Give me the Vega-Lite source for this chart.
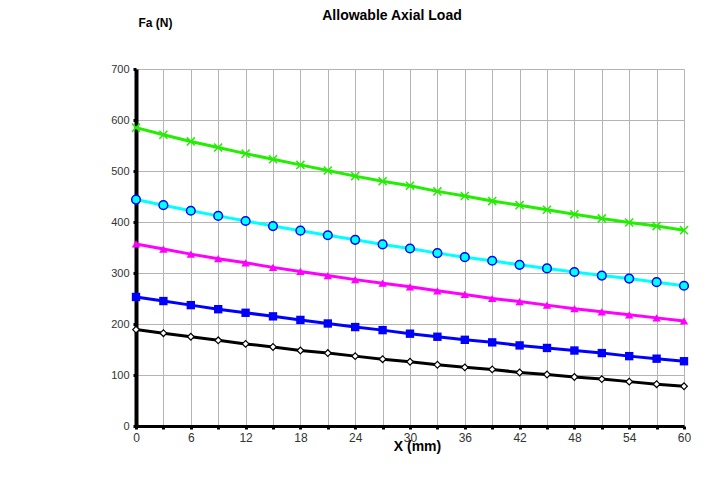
{
  "$schema": "https://vega.github.io/schema/vega-lite/v6.json",
  "autosize": {"type": "none"},
  "width": 548,
  "height": 357,
  "padding": {"left": 136, "top": 69, "right": 21, "bottom": 51},
  "background": "white",
  "title": {"text": "Allowable Axial Load", "fontSize": 14, "fontWeight": "bold", "font": "Liberation Sans", "color": "#000", "offset": -7, "dx": -18, "anchor": "middle"},
  "config": {"view": {"stroke": null}},
  "datasets": {
    "d": [
      {"x":0,"s":"A","v":585},{"x":3,"s":"A","v":571},{"x":6,"s":"A","v":558},{"x":9,"s":"A","v":546},{"x":12,"s":"A","v":534},{"x":15,"s":"A","v":523},{"x":18,"s":"A","v":512},{"x":21,"s":"A","v":501},{"x":24,"s":"A","v":490},{"x":27,"s":"A","v":480},{"x":30,"s":"A","v":471},{"x":33,"s":"A","v":460},{"x":36,"s":"A","v":451},{"x":39,"s":"A","v":441},{"x":42,"s":"A","v":433},{"x":45,"s":"A","v":424},{"x":48,"s":"A","v":415},{"x":51,"s":"A","v":407},{"x":54,"s":"A","v":399},{"x":57,"s":"A","v":392},{"x":60,"s":"A","v":384},
      {"x":0,"s":"B","v":444},{"x":3,"s":"B","v":433},{"x":6,"s":"B","v":422},{"x":9,"s":"B","v":412},{"x":12,"s":"B","v":402},{"x":15,"s":"B","v":392},{"x":18,"s":"B","v":383},{"x":21,"s":"B","v":374},{"x":24,"s":"B","v":365},{"x":27,"s":"B","v":356},{"x":30,"s":"B","v":348},{"x":33,"s":"B","v":339},{"x":36,"s":"B","v":331},{"x":39,"s":"B","v":324},{"x":42,"s":"B","v":316},{"x":45,"s":"B","v":309},{"x":48,"s":"B","v":302},{"x":51,"s":"B","v":295},{"x":54,"s":"B","v":289},{"x":57,"s":"B","v":282},{"x":60,"s":"B","v":275},
      {"x":0,"s":"C","v":357},{"x":3,"s":"C","v":347},{"x":6,"s":"C","v":337},{"x":9,"s":"C","v":328},{"x":12,"s":"C","v":320},{"x":15,"s":"C","v":311},{"x":18,"s":"C","v":303},{"x":21,"s":"C","v":295},{"x":24,"s":"C","v":287},{"x":27,"s":"C","v":280},{"x":30,"s":"C","v":273},{"x":33,"s":"C","v":265},{"x":36,"s":"C","v":258},{"x":39,"s":"C","v":250},{"x":42,"s":"C","v":244},{"x":45,"s":"C","v":237},{"x":48,"s":"C","v":230},{"x":51,"s":"C","v":224},{"x":54,"s":"C","v":218},{"x":57,"s":"C","v":212},{"x":60,"s":"C","v":206},
      {"x":0,"s":"D","v":253},{"x":3,"s":"D","v":245},{"x":6,"s":"D","v":237},{"x":9,"s":"D","v":229},{"x":12,"s":"D","v":222},{"x":15,"s":"D","v":215},{"x":18,"s":"D","v":208},{"x":21,"s":"D","v":201},{"x":24,"s":"D","v":194},{"x":27,"s":"D","v":188},{"x":30,"s":"D","v":181},{"x":33,"s":"D","v":175},{"x":36,"s":"D","v":169},{"x":39,"s":"D","v":164},{"x":42,"s":"D","v":158},{"x":45,"s":"D","v":153},{"x":48,"s":"D","v":148},{"x":51,"s":"D","v":143},{"x":54,"s":"D","v":137},{"x":57,"s":"D","v":132},{"x":60,"s":"D","v":127},
      {"x":0,"s":"E","v":189},{"x":3,"s":"E","v":182},{"x":6,"s":"E","v":175},{"x":9,"s":"E","v":168},{"x":12,"s":"E","v":161},{"x":15,"s":"E","v":155},{"x":18,"s":"E","v":148},{"x":21,"s":"E","v":143},{"x":24,"s":"E","v":137},{"x":27,"s":"E","v":131},{"x":30,"s":"E","v":126},{"x":33,"s":"E","v":120},{"x":36,"s":"E","v":115},{"x":39,"s":"E","v":111},{"x":42,"s":"E","v":105},{"x":45,"s":"E","v":101},{"x":48,"s":"E","v":96},{"x":51,"s":"E","v":92},{"x":54,"s":"E","v":87},{"x":57,"s":"E","v":82},{"x":60,"s":"E","v":78}
    ]
  },
  "data": {"name": "d"},
  "encoding": {
    "x": {"field": "x", "type": "quantitative", "scale": {"domain": [0, 60], "nice": false},
      "axis": {"values": [0,3,6,9,12,15,18,21,24,27,30,33,36,39,42,45,48,51,54,57,60],
        "labelExpr": "datum.value % 6 == 0 ? datum.label : ''",
        "title": "X (mm)", "titleFont": "Liberation Sans", "titleFontSize": 14, "titleFontWeight": "bold", "titleColor": "#000",
        "titleX": 281, "titleY": 24, "titleAlign": "center", "titleBaseline": "alphabetic",
        "labelFont": "Liberation Sans", "labelFontSize": 12, "labelColor": "#333", "labelPadding": 3,
        "domainColor": "#000", "domainWidth": 3, "tickColor": "#000", "tickSize": 3, "tickWidth": 3,
        "grid": true, "gridColor": "#b4b4b4", "gridWidth": 1, "labelFlush": false}},
    "y": {"field": "v", "type": "quantitative", "scale": {"domain": [0, 700], "nice": false},
      "axis": {"values": [0,100,200,300,400,500,600,700],
        "title": "Fa (N)", "titleFont": "Liberation Sans", "titleFontSize": 12, "titleFontWeight": "bold", "titleColor": "#000",
        "titleAngle": 0, "titleX": 19, "titleY": -47, "titleAlign": "center", "titleBaseline": "middle",
        "labelFont": "Liberation Sans", "labelFontSize": 11, "labelColor": "#333", "labelPadding": 4,
        "domainColor": "#000", "domainWidth": 4, "tickColor": "#000", "tickSize": 3, "tickWidth": 3,
        "grid": true, "gridColor": "#b4b4b4", "gridWidth": 1}}
  },
  "layer": [
    {"mark": {"type": "line", "strokeWidth": 3},
      "encoding": {"color": {"field": "s", "type": "nominal", "legend": null,
        "scale": {"domain": ["A","B","C","D","E"], "range": ["#22ee00", "#00ffff", "#ff00ff", "#0000ff", "#000000"]}}}},
    {"transform": [{"filter": "datum.s == 'A'"}],
      "mark": {"type": "point", "shape": "M-1,-1L1,1M-1,1L1,-1", "filled": false, "stroke": "#22ee00", "strokeWidth": 1.5, "size": 65, "opacity": 1}},
    {"transform": [{"filter": "datum.s == 'B'"}],
      "mark": {"type": "point", "shape": "circle", "filled": true, "fill": "#00ffff", "stroke": "#0000ff", "strokeWidth": 1.5, "size": 75, "opacity": 1}},
    {"transform": [{"filter": "datum.s == 'C'"}],
      "mark": {"type": "point", "shape": "triangle-up", "filled": true, "fill": "#ff00ff", "size": 70, "opacity": 1}},
    {"transform": [{"filter": "datum.s == 'D'"}],
      "mark": {"type": "point", "shape": "square", "filled": true, "fill": "#0000ff", "size": 70, "opacity": 1}},
    {"transform": [{"filter": "datum.s == 'E'"}],
      "mark": {"type": "point", "shape": "diamond", "filled": true, "fill": "#ffffff", "stroke": "#000000", "strokeWidth": 1.2, "size": 45, "opacity": 1}}
  ]
}
